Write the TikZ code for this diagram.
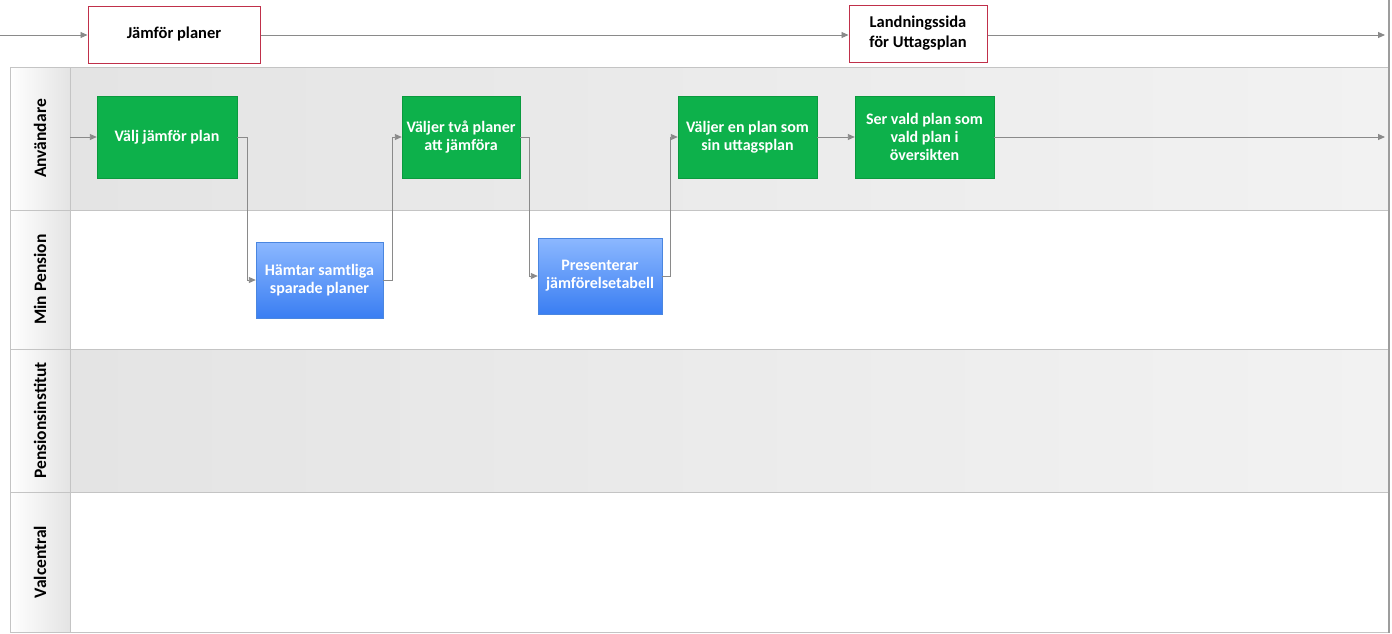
\documentclass[tikz,border=0pt]{standalone}
\usepackage{fontspec}
\setmainfont{Carlito}
\usetikzlibrary{arrows.meta}
\definecolor{grn}{HTML}{0DB14B}
\definecolor{grnd}{HTML}{0A9A3E}
\definecolor{bluT}{HTML}{8CB8FF}
\definecolor{bluB}{HTML}{3A7EF2}
\definecolor{blud}{HTML}{4A86E0}
\definecolor{redb}{HTML}{C0304A}
\definecolor{lanegray}{HTML}{E4E4E4}
\definecolor{lanegrayR}{HTML}{F2F2F2}
\definecolor{linec}{HTML}{8A8A8A}
\definecolor{bordc}{HTML}{C4C4C4}
\tikzset{
  every node/.style={font=\bfseries\fontsize{16}{18}\selectfont},
  usertask/.style={draw=grnd, fill=grn, text=white, align=center, inner sep=0pt, minimum width=#1},
  systask/.style={draw=blud, top color=bluT, bottom color=bluB, text=white, align=center, inner sep=0pt},
  pagebox/.style={draw=redb, line width=1pt, fill=white, align=center, inner sep=0pt, font=\bfseries\fontsize{16.5}{20}\selectfont},
  flow/.style={draw=linec, line width=0.9pt, -{Triangle[length=7pt,width=6pt]}},
  lanelabel/.style={rotate=90, text=black, font=\bfseries\fontsize{17.5}{20}\selectfont},
}
\begin{document}
\begin{tikzpicture}[x=1pt,y=-1pt]
\useasboundingbox (0,0) rectangle (1392,633);
\fill[white] (0,0) rectangle (1392,633);
% lanes
\shade[left color=lanegray, right color=lanegrayR] (70,67) rectangle (1388,210);
\shade[left color=lanegray, right color=lanegrayR] (70,349) rectangle (1388,492);
\fill[white] (70,210) rectangle (1388,349);
\fill[white] (70,492) rectangle (1388,632);
% label column
\foreach \ya/\yb in {67/210,210/349,349/492,492/632}{
  \shade[left color=white, right color=lanegray] (10,\ya) rectangle (70,\yb);
}
\draw[bordc, line width=1pt] (10,67) rectangle (1388,632);
\foreach \yy in {210,349,492}{\draw[bordc, line width=1pt] (10,\yy) -- (1388,\yy);}
\draw[bordc, line width=1pt] (70,67) -- (70,632);
\draw[bordc!80!black, line width=2.5pt] (1389,0) -- (1389,633);
\node[lanelabel] (l1) at (40,138.5) {Användare};
\node[lanelabel] (l2) at (40,279.5) {Min Pension};
\node[lanelabel] (l3) at (40,420.5) {Pensionsinstitut};
\node[lanelabel] (l4) at (40,562) {Valcentral};
% top pages
\coordinate (tstart) at (0,35);
\coordinate (tend) at (1385,35);
\node[pagebox, minimum width=172pt, minimum height=57pt, text=black] (jp) at (174,34.5) {Jämför planer};
\node[pagebox, minimum width=138pt, minimum height=57pt, text=black] (ls) at (918,33.5) {Landningssida\\för Uttagsplan};
\draw[flow] (tstart) -- (jp.west |- tstart);
\draw[flow] (jp.east |- tstart) -- (ls.west |- tstart);
\draw[flow] (ls.east |- tstart) -- (tend);
% tasks
\node[usertask=140pt, minimum height=82pt] (t1) at (167,137) {Välj jämför plan};
\node[usertask=118pt, minimum height=82pt] (t2) at (461,137) {Väljer två planer\\att jämföra};
\node[usertask=139pt, minimum height=82pt] (t3) at (747.5,137) {Väljer en plan som\\sin uttagsplan};
\node[usertask=139pt, minimum height=82pt] (t4) at (924.5,137) {Ser vald plan som\\vald plan i\\översikten};
\node[systask, minimum width=127pt, minimum height=76pt] (s1) at (319.5,280) {Hämtar samtliga\\sparade planer};
\node[systask, minimum width=124pt, minimum height=76pt] (s2) at (600,276) {Presenterar\\jämförelsetabell};
\coordinate (lstart) at (70,137);
\coordinate (uend) at (1385,137);
% connectors
\draw[flow] (lstart) -- (t1.west);
\draw[flow] (t1.east) -- ++(10,0) |- (s1.west);
\draw[flow] (s1.east) -- ++(9,0) |- (t2.west);
\draw[flow] (t2.east) -- ++(9,0) |- (s2.west);
\draw[flow] (s2.east) -- ++(8,0) |- (t3.west);
\draw[flow] (t3.east) -- (t4.west);
\draw[flow] (t4.east) -- (uend);
\end{tikzpicture}
\end{document}
